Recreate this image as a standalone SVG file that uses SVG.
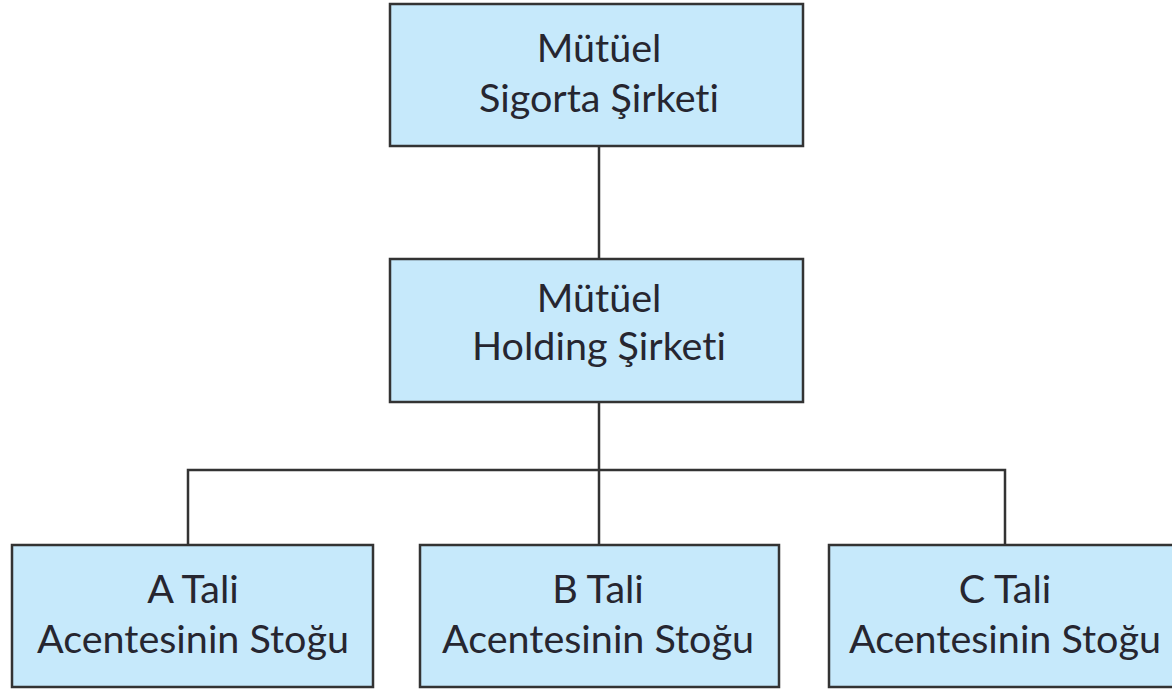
<svg xmlns="http://www.w3.org/2000/svg" width="1172" height="689" viewBox="0 0 1172 689">
  <style>
    .box { fill: #c6e9fb; stroke: #333; stroke-width: 2.5; }
    .lbl { font-family: Lato, "Open Sans", "Liberation Sans", sans-serif; font-size: 39.5px; fill: #262630; text-anchor: middle; font-variant-ligatures: none; }
    .wire { fill: none; stroke: #333; stroke-width: 2.5; }
  </style>
  <rect width="1172" height="689" fill="#ffffff"/>
  <g id="connectors">
    <line class="wire" x1="599" y1="146" x2="599" y2="258"/>
    <line class="wire" x1="599" y1="402" x2="599" y2="544"/>
    <polyline class="wire" points="188,545 188,470 1005,470 1005,545"/>
  </g>
  <g id="mutual-insurer">
    <rect class="box" x="390" y="4" width="413" height="142"/>
    <text class="lbl" x="599" y="62">Mütüel</text>
    <text class="lbl" x="599" y="112">Sigorta Şirketi</text>
  </g>
  <g id="mutual-holding">
    <rect class="box" x="390" y="259" width="413" height="143"/>
    <text class="lbl" x="599" y="312">Mütüel</text>
    <text class="lbl" x="599" y="360">Holding Şirketi</text>
  </g>
  <g id="sub-a">
    <rect class="box" x="12" y="545" width="361" height="142"/>
    <text class="lbl" x="193" y="603">A Tali</text>
    <text class="lbl" x="193" y="653">Acentesinin Stoğu</text>
  </g>
  <g id="sub-b">
    <rect class="box" x="420" y="545" width="359" height="142"/>
    <text class="lbl" x="598" y="603">B Tali</text>
    <text class="lbl" x="598" y="653">Acentesinin Stoğu</text>
  </g>
  <g id="sub-c">
    <rect class="box" x="829" y="545" width="362" height="142"/>
    <text class="lbl" x="1005" y="603">C Tali</text>
    <text class="lbl" x="1005" y="653">Acentesinin Stoğu</text>
  </g>
</svg>
